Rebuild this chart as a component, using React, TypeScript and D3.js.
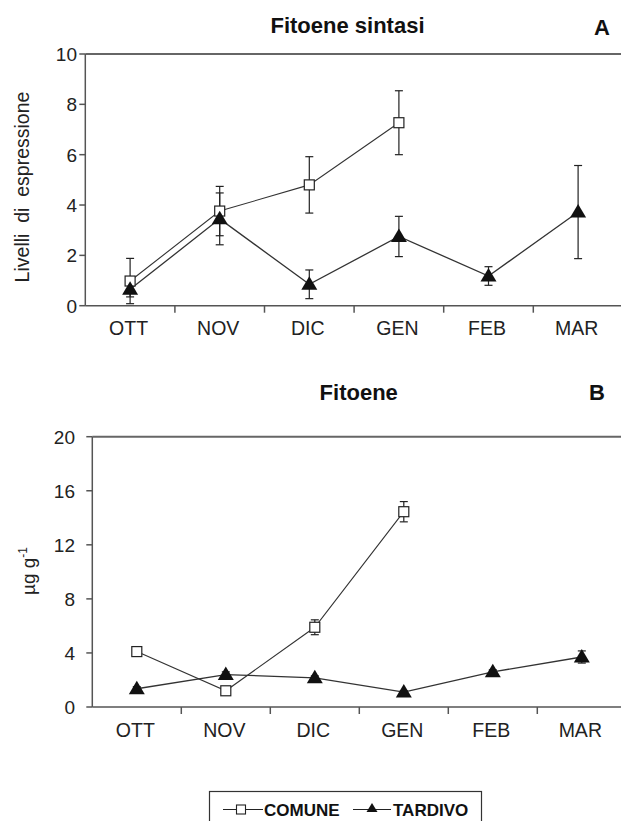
import React from "react";
import * as d3 from "d3";

const months = ["OTT", "NOV", "DIC", "GEN", "FEB", "MAR"];

// Panel A: Fitoene sintasi (Livelli di espressione)
const aComune = [0.98, 3.76, 4.8, 7.27];
const aComuneErr = [0.9, 0.98, 1.12, 1.27];
const aTardivo = [0.65, 3.45, 0.85, 2.75, 1.18, 3.72];
const aTardivoErr = [0.3, 1.03, 0.57, 0.8, 0.37, 1.85];
const aTicks = [0, 2, 4, 6, 8, 10];

// Panel B: Fitoene (µg g-1)
const bComune = [4.1, 1.2, 5.9, 14.45];
const bComuneErr = [0.15, 0.12, 0.55, 0.75];
const bTardivo = [1.35, 2.4, 2.15, 1.1, 2.6, 3.7];
const bTardivoErr = [0.15, 0.2, 0.15, 0.1, 0.15, 0.45];
const bTicks = [0, 4, 8, 12, 16, 20];

const FONT = "Arial, 'Liberation Sans', Helvetica, sans-serif";

type PanelProps = {
  x0: number;
  band: number;
  yTop: number;
  yBottom: number;
  yMax: number;
  ticks: number[];
  labelX: number;
  labelBaseline: number;
  comune: number[];
  comuneErr: number[];
  tardivo: number[];
  tardivoErr: number[];
};

function triPath(cx: number, cy: number, w: number, h: number) {
  return `M${cx},${cy - h * 0.6}L${cx + w / 2},${cy + h * 0.4}L${cx - w / 2},${cy + h * 0.4}Z`;
}

function Panel(p: PanelProps) {
  const x = d3
    .scaleBand<string>()
    .domain(months)
    .range([p.x0, p.x0 + months.length * p.band])
    .padding(0);
  const y = d3.scaleLinear().domain([0, p.yMax]).range([p.yBottom, p.yTop]);
  const cx = (i: number) => (x(months[i]) as number) + x.bandwidth() / 2;
  const line = d3
    .line<number>()
    .x((_, i) => cx(i))
    .y((d) => y(d));
  const axisColor = "#555";
  const capW = 4;
  const errBars = (vals: number[], errs: number[], key: string) =>
    vals.map((v, i) => (
      <g key={key + i} stroke="#222" strokeWidth={1.2}>
        <line x1={cx(i)} x2={cx(i)} y1={y(v + errs[i])} y2={y(v - errs[i])} />
        <line x1={cx(i) - capW} x2={cx(i) + capW} y1={y(v + errs[i])} y2={y(v + errs[i])} />
        <line x1={cx(i) - capW} x2={cx(i) + capW} y1={y(v - errs[i])} y2={y(v - errs[i])} />
      </g>
    ));
  return (
    <g>
      <line x1={p.x0} x2={621} y1={p.yTop} y2={p.yTop} stroke="#666" strokeWidth={2} />
      <line x1={p.x0} x2={p.x0} y1={p.yTop} y2={p.yBottom} stroke={axisColor} strokeWidth={1.5} />
      <line x1={p.x0} x2={621} y1={p.yBottom} y2={p.yBottom} stroke={axisColor} strokeWidth={1.5} />
      {p.ticks.map((t) => (
        <g key={"yt" + t}>
          <line x1={p.x0 - 6} x2={p.x0} y1={y(t)} y2={y(t)} stroke={axisColor} strokeWidth={1.5} />
          <text
            x={p.labelX}
            y={y(t)}
            dy="0.36em"
            textAnchor="end"
            fontSize={19}
            fontFamily={FONT}
            fill="#222"
          >
            {t}
          </text>
        </g>
      ))}
      {months.map((m, i) => (
        <g key={"xt" + m}>
          {i > 0 && (
            <line
              x1={x(m) as number}
              x2={x(m) as number}
              y1={p.yBottom}
              y2={p.yBottom + 7}
              stroke={axisColor}
              strokeWidth={1.5}
            />
          )}
          <text
            x={cx(i) - 1.5}
            y={p.labelBaseline}
            textAnchor="middle"
            fontSize={19.5}
            fontFamily={FONT}
            fill="#222"
          >
            {m}
          </text>
        </g>
      ))}
      {errBars(p.comune, p.comuneErr, "ce")}
      {errBars(p.tardivo, p.tardivoErr, "te")}
      <path d={line(p.comune) || ""} fill="none" stroke="#333" strokeWidth={1.1} />
      <path d={line(p.tardivo) || ""} fill="none" stroke="#333" strokeWidth={1.3} />
      {p.comune.map((v, i) => (
        <rect
          key={"cs" + i}
          x={cx(i) - 5}
          y={y(v) - 5}
          width={10}
          height={10}
          fill="#fff"
          stroke="#222"
          strokeWidth={1.2}
        />
      ))}
      {p.tardivo.map((v, i) => (
        <path key={"tm" + i} d={triPath(cx(i), y(v), 16, 13.5)} fill="#111" />
      ))}
    </g>
  );
}

export default function App() {
  return (
    <svg
      width={621}
      height={821}
      style={{ position: "absolute", left: 0, top: 0, background: "#fff" }}
    >
      <rect x={0} y={0} width={621} height={821} fill="#fff" />
      <text x={347.5} y={32.5} textAnchor="middle" fontSize={22} fontWeight="bold" fontFamily={FONT} fill="#111">
        Fitoene sintasi
      </text>
      <text x={602} y={35} textAnchor="middle" fontSize={22} fontWeight="bold" fontFamily={FONT} fill="#111">
        A
      </text>
      <text
        transform="translate(29,187) rotate(-90)"
        textAnchor="middle"
        fontSize={19.5}
        fontFamily={FONT}
        fill="#222"
        style={{ whiteSpace: "pre" }}
      >
        {"Livelli  di  espressione"}
      </text>
      <Panel
        x0={85.3}
        band={89.6}
        yTop={54}
        yBottom={305.7}
        yMax={10}
        ticks={aTicks}
        labelX={77}
        labelBaseline={335}
        comune={aComune}
        comuneErr={aComuneErr}
        tardivo={aTardivo}
        tardivoErr={aTardivoErr}
      />
      <text x={358.7} y={400} textAnchor="middle" fontSize={22} fontWeight="bold" fontFamily={FONT} fill="#111">
        Fitoene
      </text>
      <text x={597} y={400} textAnchor="middle" fontSize={22} fontWeight="bold" fontFamily={FONT} fill="#111">
        B
      </text>
      <text
        transform="translate(35,571) rotate(-90)"
        textAnchor="middle"
        fontSize={19}
        fontFamily={FONT}
        fill="#222"
      >
        {"µg g"}
        <tspan fontSize={12} dy={-8}>
          -1
        </tspan>
      </text>
      <Panel
        x0={92.3}
        band={89}
        yTop={436.7}
        yBottom={707}
        yMax={20}
        ticks={bTicks}
        labelX={75}
        labelBaseline={737}
        comune={bComune}
        comuneErr={bComuneErr}
        tardivo={bTardivo}
        tardivoErr={bTardivoErr}
      />
      <rect x={209.5} y={791.5} width={272} height={45} fill="none" stroke="#333" strokeWidth={1.2} />
      <line x1={223} x2={263} y1={809.5} y2={809.5} stroke="#222" strokeWidth={1.2} />
      <rect x={236.5} y={805} width={9} height={9} fill="#fff" stroke="#222" strokeWidth={1.1} />
      <text x={264} y={815.5} fontSize={17} fontWeight="bold" fontFamily={FONT} fill="#111">
        COMUNE
      </text>
      <line x1={353} x2={391} y1={809.5} y2={809.5} stroke="#222" strokeWidth={1.2} />
      <path d={triPath(372, 808.5, 11, 9)} fill="#111" />
      <text x={393} y={815.5} fontSize={17} fontWeight="bold" fontFamily={FONT} fill="#111">
        TARDIVO
      </text>
    </svg>
  );
}
